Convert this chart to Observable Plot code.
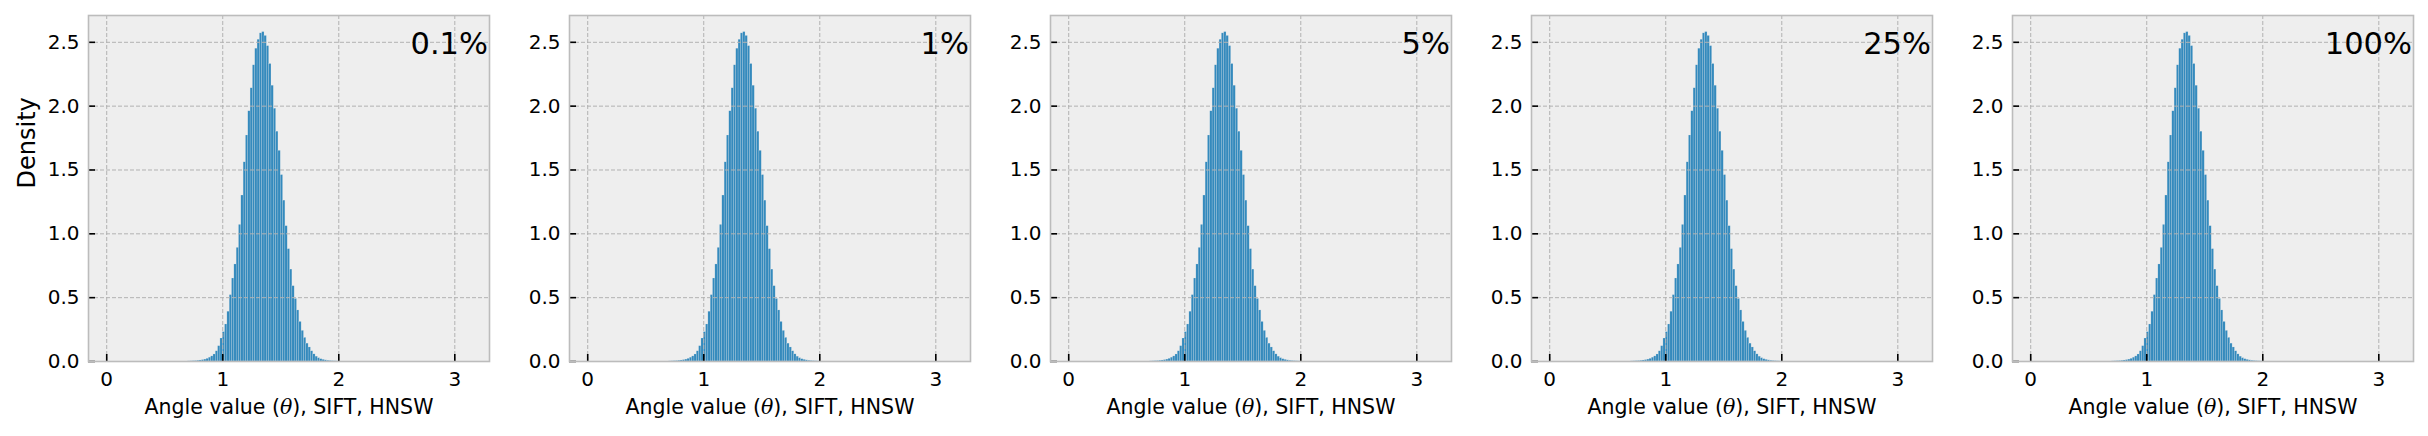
<!DOCTYPE html>
<html><head><meta charset="utf-8">
<script src="https://cdn.jsdelivr.net/npm/d3@7"></script>
<script src="https://cdn.jsdelivr.net/npm/@observablehq/plot@0.6"></script>
<style>
html,body{margin:0;padding:0;background:#fff;}
#chart{position:relative;width:2428px;height:436px;overflow:hidden;background:#fff;}
#chart .panel{position:absolute;top:0;}
#chart svg{background:transparent !important;max-width:none !important;overflow:visible;}
</style></head><body><div id="chart"></div>
<script>
// ---- data ----
const panelLabels = ["0.1%", "1%", "5%", "25%", "100%"];
const xLabel = "Angle value (θ), SIFT, HNSW";
const yLabel = "Density";
const xTicks = [0, 1, 2, 3];
const yTicks = [0, 0.5, 1.0, 1.5, 2.0, 2.5];
const binStart = 0.70;   // left edge of first histogram bin
const binWidth = 0.02;   // histogram bin width
// density of each bin (same-looking distribution in every panel)
const densities = [
  0.001, 0.002, 0.003, 0.004, 0.006, 0.008, 0.011, 0.015, 0.021, 0.030, 0.040, 0.055, 0.080,
  0.12, 0.18, 0.23, 0.29, 0.39,
  0.52, 0.65, 0.76, 0.89, 1.07,
  1.30, 1.56, 1.77, 1.96, 2.14,
  2.32, 2.45, 2.52, 2.57, 2.58,
  2.55, 2.47, 2.33, 2.16, 1.98,
  1.80, 1.65, 1.46, 1.26, 1.06,
  0.88, 0.72, 0.59, 0.49, 0.40,
  0.31, 0.24, 0.185, 0.14, 0.11,
  0.08, 0.056, 0.038, 0.026, 0.018,
  0.013, 0.009, 0.006, 0.004, 0.003, 0.002, 0.001
];

// ---- layout ----
const xDomain = [-0.157, 3.299];
const yDomain = [0, 2.71];
const innerW = 401, innerH = 346;
const mTop = 15, mBottom = 75, mLeft = 88;
const panelStep = 481;
const tickLen = 7;

const bins = densities.map((d, i) => ({
  x0: binStart + i * binWidth,
  x1: binStart + (i + 1) * binWidth,
  density: d
}));

const tickDY = (yDomain[1] - yDomain[0]) * tickLen / innerH;
const tickDX = (xDomain[1] - xDomain[0]) * tickLen / innerW;
const grid = {stroke: "#b2b2b2", strokeOpacity: 1, strokeWidth: 1, strokeDasharray: "4,2"};

const chart = document.getElementById("chart");
panelLabels.forEach((lab, i) => {
  const marks = [
    Plot.frame({fill: "#eeeeee", stroke: "none"}),
    Plot.rectY(bins, {x1: "x0", x2: "x1", y1: () => 0, y2: "density", fill: "#348ABD",
      stroke: "#eeeeee", strokeWidth: 0.4, strokeOpacity: 0.45, inset: 0}),
    Plot.gridX(xTicks, grid),
    Plot.gridY(yTicks, grid),
    Plot.ruleX(xTicks, {x: d => d, y1: () => yDomain[0], y2: () => yDomain[0] + tickDY, stroke: "black", strokeWidth: 1.6}),
    Plot.ruleY(yTicks, {y: d => d, x1: () => xDomain[0], x2: () => xDomain[0] + tickDX, stroke: "black", strokeWidth: 1.6}),
    Plot.axisX(xTicks, {tickSize: 0, tickPadding: 10, tickFormat: d3.format("d"), fontSize: 20, label: null}),
    Plot.axisY(yTicks, {tickSize: 0, tickPadding: 9, tickFormat: d3.format(".1f"), fontSize: 20, label: null}),
    Plot.frame({stroke: "#bcbcbc", strokeWidth: 1.6}),
    Plot.text([lab], {frameAnchor: "top-right", textAnchor: "end", lineAnchor: "top", dx: -1.5, dy: 17, fontSize: 30.5, fill: "black"}),
    Plot.text([xLabel], {frameAnchor: "bottom", lineAnchor: "top", dy: 37.5, fontSize: 20.5, fill: "black"})
  ];
  if (i === 0) {
    marks.push(Plot.text([yLabel], {frameAnchor: "left", rotate: -90, lineAnchor: "middle", dx: -61, fontSize: 24, fill: "black"}));
  }
  const svg = Plot.plot({
    width: mLeft + innerW,
    height: mTop + innerH + mBottom,
    marginTop: mTop, marginBottom: mBottom, marginLeft: mLeft, marginRight: 0,
    x: {domain: xDomain},
    y: {domain: yDomain},
    style: {fontFamily: "DejaVu Sans", fontSize: "20px", color: "black", background: "transparent", overflow: "visible"},
    marks
  });
  const div = document.createElement("div");
  div.className = "panel";
  div.style.left = (panelStep * i) + "px";
  div.appendChild(svg);
  chart.appendChild(div);
  // italic theta as in the reference (math text)
  svg.querySelectorAll("text").forEach(t => {
    if (t.textContent === xLabel) {
      const parts = xLabel.split("θ");
      t.textContent = "";
      const ns = "http://www.w3.org/2000/svg";
      const a = document.createElementNS(ns, "tspan"); a.textContent = parts[0];
      const b = document.createElementNS(ns, "tspan"); b.textContent = "θ";
      b.setAttribute("font-style", "italic"); b.setAttribute("font-family", "DejaVu Serif");
      const c = document.createElementNS(ns, "tspan"); c.textContent = parts[1];
      t.append(a, b, c);
    }
  });
});
</script></body></html>
